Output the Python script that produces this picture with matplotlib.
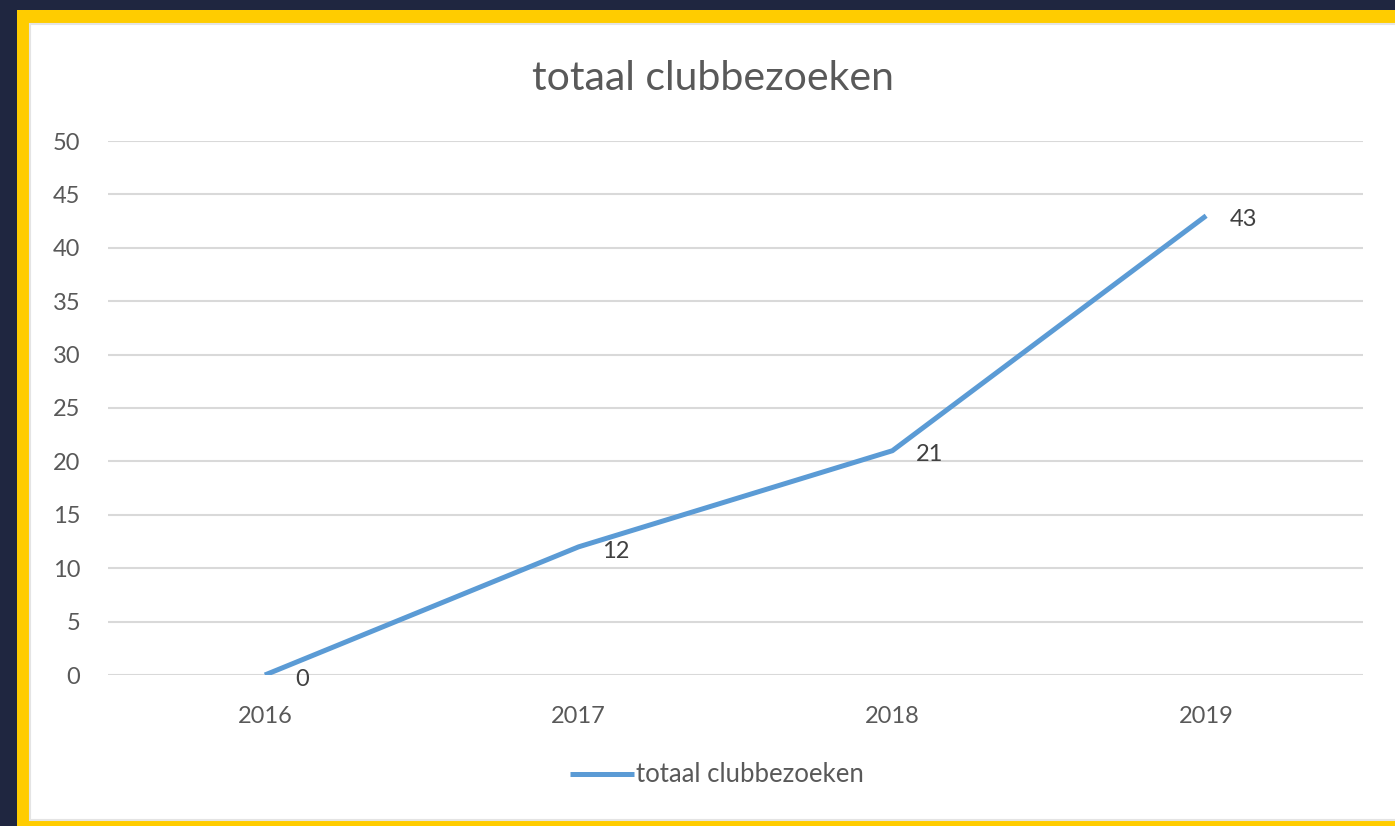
import matplotlib.pyplot as plt
from matplotlib.patches import Rectangle

jaren = ['2016', '2017', '2018', '2019']
bezoeken = [0, 12, 21, 43]
titel = 'totaal clubbezoeken'

plt.rcParams['font.family'] = ['Lato', 'DejaVu Sans']

W, H = 1395, 826
fig = plt.figure(figsize=(W / 100, H / 100), dpi=100)
fig.patch.set_facecolor('#1f2640')

# gele rand en witte kaart
fig.patches.append(Rectangle((17 / W, 0), 1, 1 - 10 / H, transform=fig.transFigure,
                             facecolor='#ffcc00', edgecolor='none', zorder=-2))
fig.patches.append(Rectangle((30 / W, 6 / H), 1, 1 - 30 / H, transform=fig.transFigure,
                             facecolor='white', edgecolor='#e4e4e4', linewidth=1.5, zorder=-1))

ax = fig.add_axes([108 / W, 1 - 675 / H, (1363 - 108) / W, (675 - 141) / H])
ax.set_facecolor('none')
x = list(range(len(jaren)))
ax.plot(x, bezoeken, color='#5b9bd5', linewidth=3.6, solid_capstyle='butt',
        label=titel, zorder=3)
for xi, yi in zip(x, bezoeken):
    ax.annotate(str(yi), (xi, yi), xytext=(27, -3), textcoords='offset points',
                ha='center', va='center', fontsize=17, color='#404040')

ax.set_xlim(-0.5, 3.5)
ax.set_ylim(0, 50)
ax.set_yticks(range(0, 51, 5))
ax.set_xticks(x)
ax.set_xticklabels(jaren)
ax.grid(axis='y', color='#d9d9d9', linewidth=1.5)
ax.set_axisbelow(True)
for s in ax.spines.values():
    s.set_visible(False)
ax.tick_params(length=0, labelsize=17, labelcolor='#595959')
ax.tick_params(axis='y', pad=20)
ax.tick_params(axis='x', pad=22)

fig.text(713 / W, 1 - 78 / H, titel, ha='center', va='center', fontsize=29.5, color='#595959')
fig.legend(loc='center', bbox_to_anchor=(717 / W, 1 - 775 / H), frameon=False,
           fontsize=18.5, labelcolor='#595959', handlelength=2.5, handletextpad=0.1)

fig.savefig('out.png', dpi=100, facecolor=fig.get_facecolor())
